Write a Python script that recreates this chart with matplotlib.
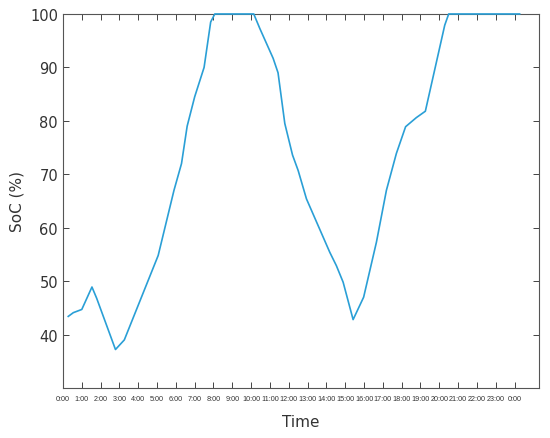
import matplotlib.pyplot as plt

# SoC trace (hours since 0:00, percent)
hours = [0.28, 0.55, 1.0, 1.54, 1.79, 2.79, 3.26, 5.06, 5.9, 6.3, 6.6, 7.0,
         7.5, 7.85, 8.07, 10.14, 10.46, 11.17, 11.43, 11.79, 12.2, 12.5,
         12.94, 14.18, 14.53, 14.89, 15.42, 15.98, 16.66, 17.19, 17.72,
         18.21, 18.78, 19.26, 20.29, 20.5, 24.27]
soc = [43.4, 44.1, 44.7, 48.9, 46.8, 37.2, 39.0, 54.8, 67.0, 72.0, 79.0, 84.5,
       90.0, 98.5, 100, 100, 97.3, 91.7, 89.0, 79.5, 73.6, 70.7,
       65.4, 55.4, 52.9, 49.8, 42.8, 47.0, 57.3, 67.0, 73.9,
       78.9, 80.6, 81.8, 97.9, 100, 100]

tick_hours = list(range(25))
tick_labels = [f"{h % 24}:00" for h in tick_hours]
y_ticks = [40, 50, 60, 70, 80, 90, 100]

fig = plt.figure(figsize=(5.5, 4.39), dpi=100)
ax = fig.add_axes([0.1145, 0.1139, 0.8655, 0.852])

ax.plot(hours, soc, color="#2a9fd6", lw=1.2, clip_on=False, zorder=3)

ax.set_xlim(0, 25.3)
ax.set_ylim(30, 100)
ax.set_xticks(tick_hours)
ax.set_xticklabels(tick_labels, family=["Liberation Sans", "DejaVu Sans"],
                   fontsize=5.2, color="#333333")
ax.set_yticks(y_ticks)
ax.tick_params(axis="y", labelsize=10.5, labelcolor="#333333")
ax.tick_params(direction="in", length=4, width=0.7, color="#444444",
               top=True, right=True)
ax.tick_params(axis="x", pad=5)

for s in ax.spines.values():
    s.set_color("#555555")
    s.set_linewidth(0.8)

ax.set_ylabel("SoC (%)", fontsize=11, color="#333333")
ax.set_xlabel("Time", fontsize=11, color="#333333", labelpad=9)

fig.savefig("out.png", dpi=100)
plt.close(fig)
